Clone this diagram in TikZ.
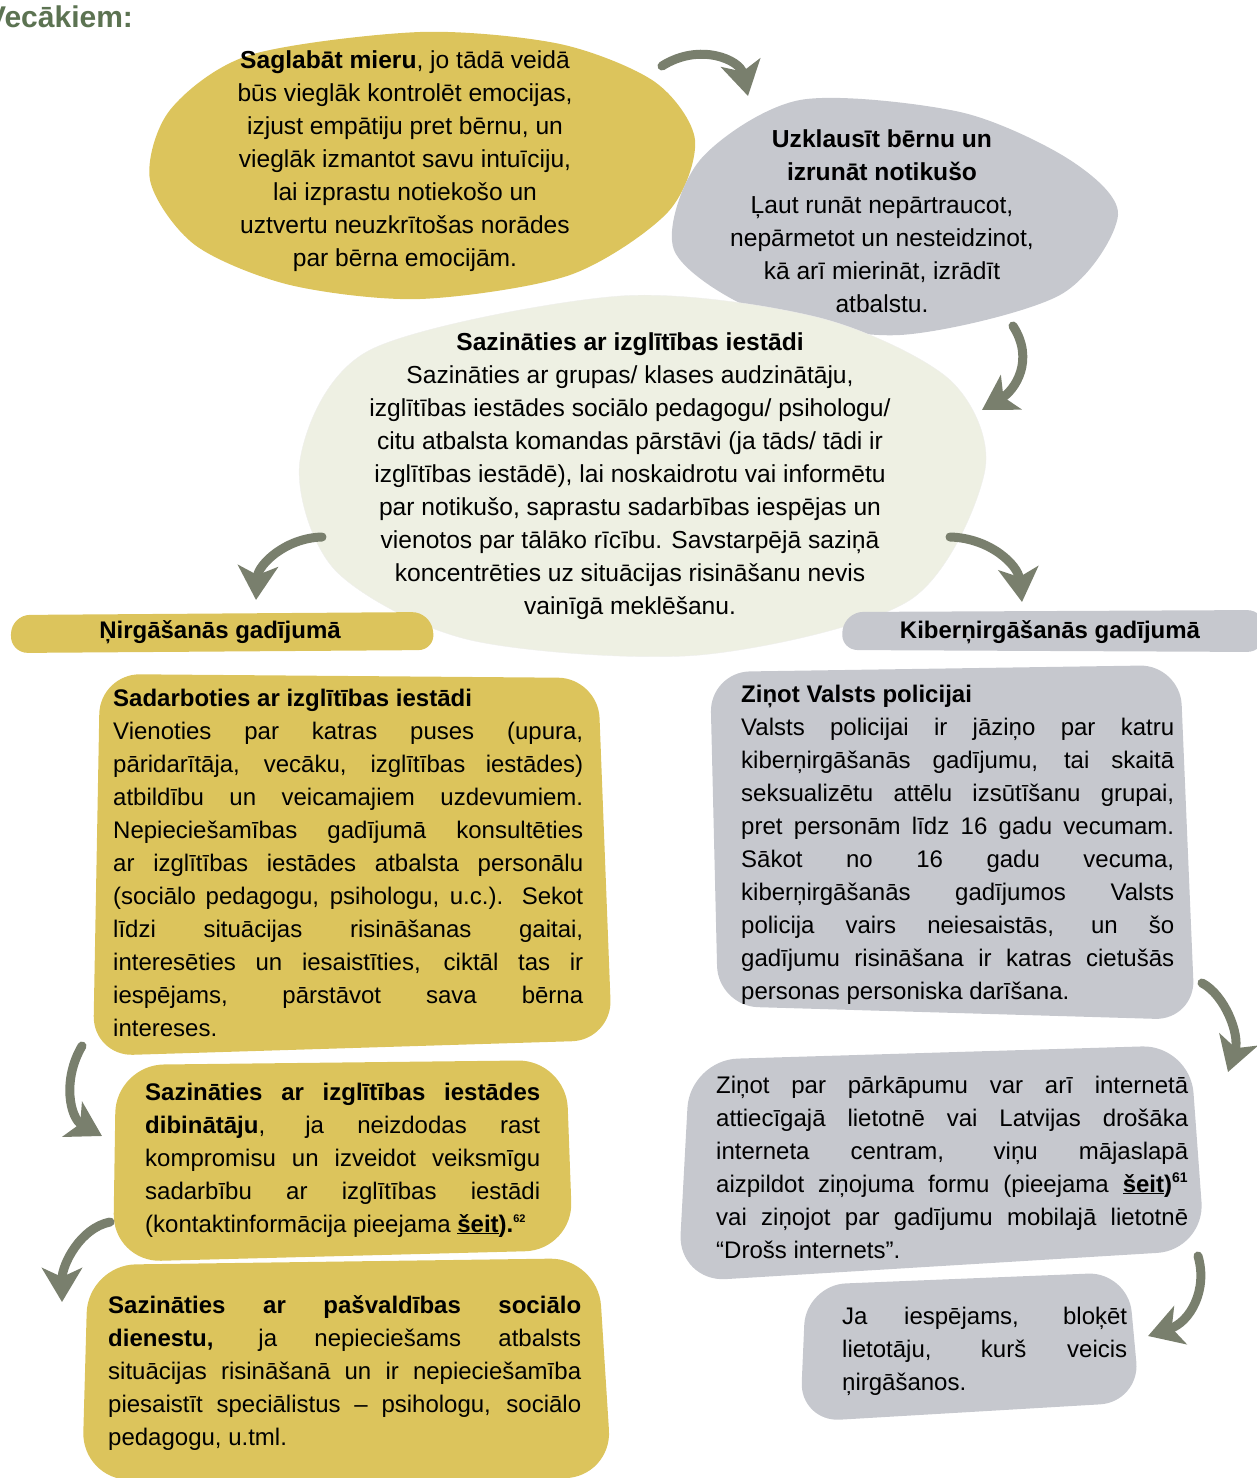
\documentclass[tikz,border=0pt]{standalone}
\usepackage{fontspec}
\setmainfont{Liberation Sans}
\usetikzlibrary{arrows.meta}
\definecolor{blobyellow}{RGB}{220,196,92}
\definecolor{blobgray}{RGB}{198,200,206}
\definecolor{blobcream}{RGB}{238,240,227}
\definecolor{arrowgreen}{RGB}{121,127,109}
\definecolor{titlegreen}{RGB}{92,115,82}
\hbadness=10000
\tikzset{
  txt/.style={inner sep=0pt, font=\fontsize{24}{33}\selectfont},
  ctr/.style={inner sep=0pt, font=\fontsize{24.6}{33}\selectfont, align=center, anchor=base},
  jst/.style={txt, align=justify, text width=#1, anchor=base west},
  hdr/.style={inner sep=0pt, font=\fontsize{24}{30}\selectfont\bfseries},
  flow/.style={arrowgreen, line width=9pt, line cap=round,
    -{Stealth[length=34pt, width=40pt, inset=9pt]}}
}
\begin{document}
\begin{tikzpicture}[x=1pt,y=-1pt]
  %\draw[help lines,step=100] (0,0) grid (1257,1478);
  \useasboundingbox (0,0) rectangle (1257,1478);
  \node[anchor=base west, inner sep=0pt, text=titlegreen,
    font=\fontsize{30}{32}\selectfont\bfseries] (title) at (-14,27) {Vecākiem:};

  % blobs
  \fill[blobyellow] plot[smooth cycle] coordinates {(420,32) (560,44) (655,82) (695,140)
    (668,212) (570,275) (420,299) (290,285) (195,245) (150,180) (170,110) (250,55)};
  \fill[blobgray] plot[smooth cycle] coordinates {(800,100) (960,112) (1070,160) (1118,215)
    (1060,295) (900,335) (760,312) (674,250) (700,160)};
  \draw[blobcream!80!black!25, fill=blobcream] plot[smooth cycle] coordinates {(620,296) (820,318)
    (950,380) (985,470) (910,600) (700,655) (470,640) (335,570) (300,460) (370,350)};

  % bars and boxes
  \fill[blobyellow, rounded corners=18] (12,615) -- (430,612) -- (436,650) -- (10,653) -- cycle;
  \fill[blobgray, rounded corners=18] (845,612) -- (1265,610) -- (1265,652) -- (840,650) -- cycle;
  \fill[blobyellow, rounded corners=40] (100,674) -- (598,678) -- (612,1040) -- (93,1056) -- cycle;
  \fill[blobgray, rounded corners=40] (710,672) -- (1180,665) -- (1195,1020) -- (718,1006) -- cycle;
  \fill[blobyellow, rounded corners=48] (116,1065) -- (566,1060) -- (573,1250) -- (113,1262) -- cycle;
  \fill[blobyellow, rounded corners=48] (88,1265) -- (598,1258) -- (612,1478) -- (82,1480) -- cycle;
  \fill[blobgray, rounded corners=48] (690,1060) -- (1190,1045) -- (1205,1250) -- (678,1282) -- cycle;
  \fill[blobgray, rounded corners=40] (806,1285) -- (1128,1272) -- (1140,1402) -- (800,1422) -- cycle;

  % texts (base = last line)
  \node[ctr] (calm) at (405,266) {\textbf{Saglabāt mieru}, jo tādā veidā\\
    būs vieglāk kontrolēt emocijas,\\ izjust empātiju pret bērnu, un\\
    vieglāk izmantot savu intuīciju,\\ lai izprastu notiekošo un\\
    uztvertu neuzkrītošas norādes\\ par bērna emocijām.};
  \node[ctr] (listen) at (882,312) {\textbf{Uzklausīt bērnu un}\\ \textbf{izrunāt notikušo}\\
    Ļaut runāt nepārtraucot,\\ nepārmetot un nesteidzinot,\\
    kā arī mierināt, izrādīt\\ atbalstu.};
  \node[ctr] (school) at (630,614) {\textbf{Sazināties ar izglītības iestādi}\\
    Sazināties ar grupas/ klases audzinātāju,\\
    izglītības iestādes sociālo pedagogu/ psihologu/\\
    citu atbalsta komandas pārstāvi (ja tāds/ tādi ir\\
    izglītības iestādē), lai noskaidrotu vai informētu\\
    par notikušo, saprastu sadarbības iespējas un\\
    vienotos par tālāko rīcību. Savstarpējā saziņā\\
    koncentrēties uz situācijas risināšanu nevis\\
    vainīgā meklēšanu.};
  \node[hdr] (bully) at (220,632) {Ņirgāšanās gadījumā};
  \node[hdr] (cyber) at (1050,632) {Kiberņirgāšanās gadījumā};

  \node[jst=470pt] (coop) at (113,706) {\textbf{Sadarboties ar izglītības iestādi}\\
    Vienoties par katras puses (upura,\linebreak
    pāridarītāja, vecāku, izglītības iestādes)\linebreak
    atbildību un veicamajiem uzdevumiem.\linebreak
    Nepieciešamības gadījumā konsultēties\linebreak
    ar izglītības iestādes atbalsta personālu\linebreak
    (sociālo pedagogu, psihologu, u.c.). Sekot\linebreak
    līdzi situācijas risināšanas gaitai,\linebreak
    interesēties un iesaistīties, ciktāl tas ir\linebreak
    iespējams, pārstāvot sava bērna\linebreak
    intereses.};
  \node[jst=395pt] (founder) at (145,1100) {\textbf{Sazināties ar izglītības iestādes}\linebreak
    \textbf{dibinātāju}, ja neizdodas rast\linebreak
    kompromisu un izveidot veiksmīgu\linebreak
    sadarbību ar izglītības iestādi\linebreak
    (kontaktinformācija pieejama \textbf{\underline{šeit}).}\textsuperscript{\bfseries\fontsize{11}{11}\selectfont 62}};
  \node[jst=473pt] (social) at (108,1313) {\textbf{Sazināties ar pašvaldības sociālo}\linebreak
    \textbf{dienestu,} ja nepieciešams atbalsts\linebreak
    situācijas risināšanā un ir nepieciešamība\linebreak
    piesaistīt speciālistus – psihologu, sociālo\linebreak
    pedagogu, u.tml.};

  \node[jst=433pt] (police) at (741,702) {\textbf{Ziņot Valsts policijai}\\
    Valsts policijai ir jāziņo par katru\linebreak
    kiberņirgāšanās gadījumu, tai skaitā\linebreak
    seksualizētu attēlu izsūtīšanu grupai,\linebreak
    pret personām līdz 16 gadu vecumam.\linebreak
    Sākot no 16 gadu vecuma,\linebreak
    kiberņirgāšanās gadījumos Valsts\linebreak
    policija vairs neiesaistās, un šo\linebreak
    gadījumu risināšana ir katras cietušās\linebreak
    personas personiska darīšana.};
  \node[jst=472pt] (report) at (716,1093) {Ziņot par pārkāpumu var arī internetā\linebreak
    attiecīgajā lietotnē vai Latvijas drošāka\linebreak
    interneta centram, viņu mājaslapā\linebreak
    aizpildot ziņojuma formu (pieejama \textbf{\underline{šeit})}\textsuperscript{\bfseries\fontsize{14}{14}\selectfont 61}\linebreak
    vai ziņojot par gadījumu mobilajā lietotnē\linebreak
    “Drošs internets”.};
  \node[jst=285pt] (block) at (842,1324) {Ja iespējams, bloķēt\linebreak
    lietotāju, kurš veicis\linebreak ņirgāšanos.};

  % arrows
  \coordinate (a1s) at (662,66);   \coordinate (a1e) at (748,96);
  \coordinate (a2s) at (1013,326); \coordinate (a2e) at (982,410);
  \coordinate (a3s) at (322,537);  \coordinate (a3e) at (256,600);
  \coordinate (a4s) at (950,537);  \coordinate (a4e) at (1022,602);
  \coordinate (a5s) at (82,1046);  \coordinate (a5e) at (102,1136);
  \coordinate (a6s) at (110,1222); \coordinate (a6e) at (62,1302);
  \coordinate (a7s) at (1202,983); \coordinate (a7e) at (1228,1072);
  \coordinate (a8s) at (1198,1256); \coordinate (a8e) at (1148,1336);
  \draw[flow] (a1s) .. controls (700,42) and (740,60) .. (a1e);
  \draw[flow] (a2s) .. controls (1035,360) and (1015,390) .. (a2e);
  \draw[flow] (a3s) .. controls (285,538) and (258,565) .. (a3e);
  \draw[flow] (a4s) .. controls (990,538) and (1018,565) .. (a4e);
  \draw[flow] (a5s) .. controls (62,1080) and (70,1118) .. (a5e);
  \draw[flow] (a6s) .. controls (80,1228) and (62,1265) .. (a6e);
  \draw[flow] (a7s) .. controls (1225,995) and (1240,1035) .. (a7e);
  \draw[flow] (a8s) .. controls (1208,1290) and (1190,1322) .. (a8e);
\end{tikzpicture}
\end{document}
